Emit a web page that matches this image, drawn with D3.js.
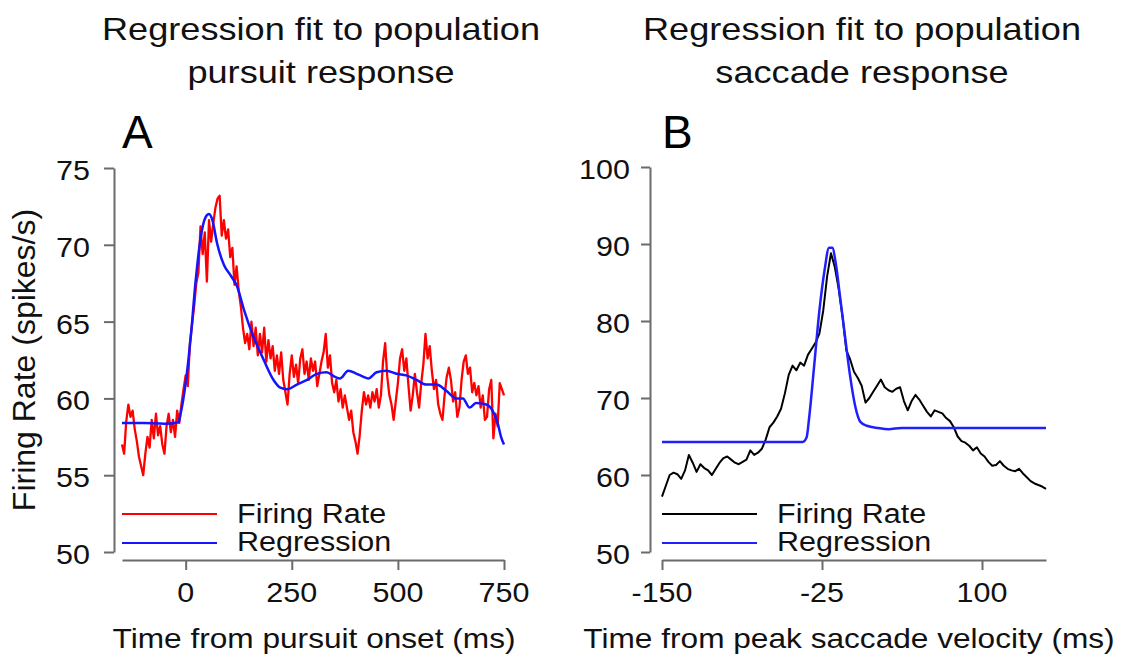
<!DOCTYPE html>
<html>
<head>
<meta charset="utf-8">
<script src="https://cdn.jsdelivr.net/npm/d3@7"></script>
<style>
  body { margin: 0; background: #fff; }
  svg { display: block; font-family: "Liberation Sans", Arial, sans-serif; }
</style>
</head>
<body>
<div id="chart"></div>
<script>
// ---- panel A: pursuit response (5 ms bins, -150..750 ms)
var pursuitStart = -150, pursuitStep = 5;
var pursuitRate = [
  57.0, 56.4, 58.5, 59.6, 58.8, 59.2, 58.0, 57.2, 56.2, 55.6,
  55.0, 56.4, 57.5, 56.8, 58.6, 57.4, 59.0, 57.6, 58.2, 57.0,
  56.4, 58.2, 59.0, 57.8, 58.6, 57.5, 59.2, 58.4, 59.6, 60.6,
  61.5, 60.8, 63.6, 64.8, 66.0, 67.5, 68.2, 71.2, 69.4, 70.8,
  67.6, 71.6, 70.2, 71.4, 72.4, 73.0, 73.2, 70.6, 71.6, 70.4,
  71.0, 69.2, 69.8, 67.4, 68.6, 67.0, 66.0, 64.6, 63.6, 64.2,
  63.2, 65.0, 63.4, 64.6, 62.8, 64.2, 63.0, 64.6, 62.4, 63.8,
  62.6, 63.4, 61.8, 62.8, 61.6, 63.0, 61.2, 60.4, 59.6, 61.6,
  62.8, 61.4, 62.2, 61.0, 62.6, 63.2, 61.6, 62.4, 61.2, 62.6,
  61.8, 62.4, 60.8, 61.6, 62.4, 63.0, 64.2, 62.0, 62.8, 61.0,
  60.4, 61.2, 59.8, 60.6, 59.4, 60.2, 59.4, 58.6, 59.2, 57.8,
  57.2, 56.4, 57.6, 59.2, 60.4, 59.6, 60.2, 59.4, 60.4, 59.8,
  60.6, 59.4, 60.2, 62.4, 63.6, 61.4, 60.2, 59.6, 58.6, 59.8,
  61.0, 62.6, 63.2, 61.8, 62.6, 60.8, 59.2, 60.2, 61.6, 60.4,
  59.4, 61.0, 62.2, 64.2, 62.6, 63.4, 61.8, 60.6, 61.2, 59.6,
  59.0, 58.6, 60.2, 61.4, 62.0, 61.2, 59.8, 60.4, 58.8, 59.4,
  61.2, 62.4, 62.8, 61.6, 62.0, 60.4, 61.0, 60.2, 60.8, 59.4,
  60.2, 58.6, 58.8, 60.6, 61.2, 57.4, 59.0, 58.2, 61.0, 60.6,
  60.2
];
var pursuitFitT = [-150, -100, -50, -17, -12, 0, 12, 23, 35, 47, 55, 63, 74, 90, 106, 121, 137, 160, 184, 207, 223, 239, 262, 286, 309, 332, 352, 364, 383, 403, 419, 430, 450, 473, 497, 520, 544, 567, 591, 614, 638, 653, 669, 684, 708, 723, 735, 743, 750];
var pursuitFit = [58.4, 58.4, 58.35, 58.45, 59.0, 61.0, 64.0, 67.5, 70.4, 71.8, 72.0, 71.6, 70.1, 68.7, 68.0, 67.3, 65.8, 64.0, 62.5, 61.2, 60.7, 60.6, 60.9, 61.2, 61.6, 61.7, 61.4, 61.3, 61.8, 61.6, 61.4, 61.3, 61.7, 61.8, 61.6, 61.5, 61.2, 60.9, 60.9, 60.5, 60.0, 60.0, 59.4, 59.7, 59.6, 59.2, 58.4, 57.5, 57.0];

// ---- panel B: saccade response (3 ms bins, -150..150 ms)
var saccadeStart = -150, saccadeStep = 3;
var saccadeRate = [
  57.2, 58.6, 60.0, 60.3, 60.1, 59.5, 60.6, 62.6, 61.6, 60.4,
  61.4, 60.9, 60.6, 60.0, 60.8, 61.6, 62.2, 62.4, 62.0, 61.6,
  61.4, 61.7, 62.0, 63.2, 62.6, 62.9, 63.4, 64.6, 66.2, 66.8,
  67.6, 68.6, 70.6, 73.0, 74.2, 73.6, 74.6, 74.2, 75.6, 76.4,
  77.2, 78.4, 81.4, 85.8, 88.8, 87.0, 84.2, 80.6, 76.2, 75.0,
  73.4, 72.6, 71.6, 69.4, 70.0, 70.8, 71.6, 72.4, 71.4, 71.0,
  70.8, 71.2, 71.4, 69.6, 68.4, 69.6, 70.4, 69.8, 69.0, 68.2,
  67.6, 68.4, 68.2, 68.0, 67.4, 67.0, 66.2, 65.0, 64.4, 64.2,
  63.8, 63.2, 63.6, 62.8, 62.4, 61.7, 61.2, 61.3, 61.8, 61.2,
  60.8, 60.6, 60.5, 60.8, 60.2, 59.7, 59.2, 58.9, 58.7, 58.5,
  58.2
];
var saccadeFitT = [-150, -100, -60, -40, -37, -35, -31, -27, -23, -19.5, -17, -14, -11, -7, -3, 1, 5, 10, 19, 27, 37, 150];
var saccadeFit = [64.3, 64.3, 64.3, 64.3, 64.9, 67.5, 74.4, 81.4, 86.6, 89.5, 89.5, 87.2, 83.3, 78.0, 72.8, 68.9, 66.9, 66.4, 66.1, 65.95, 66.1, 66.1];

var pursuitTicksX = [0, 250, 500, 750], pursuitTicksY = [50, 55, 60, 65, 70, 75];
var saccadeTicksX = [-150, -25, 100], saccadeTicksY = [50, 60, 70, 80, 90, 100];
var legendNames = ["Firing Rate", "Regression"];

var W = 1129, H = 657, sx = 1.13;
var axisColor = "#6b6b6b", textColor = "#111";

var svg = d3.select("#chart").append("svg").attr("width", W).attr("height", H);
svg.append("rect").attr("width", W).attr("height", H).attr("fill", "#fff");

// horizontally stretched text, like the reference
function label(g, x, y, txt, size, anchor) {
  return g.append("text")
    .attr("transform", "translate(" + x + "," + y + ") scale(" + sx + ",1)")
    .attr("text-anchor", anchor || "start")
    .attr("font-size", size)
    .attr("fill", textColor)
    .text(txt);
}

function panel(opt) {
  var g = svg.append("g");
  var x = d3.scaleLinear().domain(opt.xDomain).range(opt.xRange);
  var y = d3.scaleLinear().domain(opt.yDomain).range([552, opt.yTop]);

  // axes
  var xa = g.append("g").attr("transform", "translate(0,560)")
    .call(d3.axisBottom(x).tickValues(opt.xTicks).tickSize(10).tickSizeOuter(0).tickFormat(""));
  var ya = g.append("g").attr("transform", "translate(" + opt.yAxisX + ",0)")
    .call(d3.axisLeft(y).tickValues(opt.yTicks).tickSize(opt.tickLen).tickSizeOuter(0).tickFormat(""));
  [xa, ya].forEach(function (a) {
    a.selectAll("path, line").attr("stroke", axisColor).attr("stroke-width", 2);
    a.selectAll("text").remove();
  });

  opt.xTicks.forEach(function (v) { label(g, x(v), 602, v, 27, "middle"); });
  opt.yTicks.forEach(function (v) { label(g, opt.yLabelX, y(v) + 12, v, 27, "end"); });

  // lines
  var rateLine = d3.line()
    .x(function (d, i) { return x(opt.rateStart + i * opt.rateStep); })
    .y(function (d) { return y(d); });
  g.append("path").datum(opt.rate)
    .attr("d", rateLine).attr("fill", "none")
    .attr("stroke", opt.rateColor).attr("stroke-width", opt.rateWidth).attr("stroke-linejoin", "round");

  var fitLine = d3.line()
    .x(function (d) { return x(d[0]); })
    .y(function (d) { return y(d[1]); })
    .curve(d3.curveMonotoneX);
  g.append("path").datum(d3.zip(opt.fitT, opt.fit))
    .attr("d", fitLine).attr("fill", "none")
    .attr("stroke", opt.fitColor).attr("stroke-width", 2.5);

  // legend
  var lx = opt.xRange[0];
  [opt.rateColor, opt.fitColor].forEach(function (c, i) {
    g.append("line").attr("x1", lx).attr("x2", lx + 95)
      .attr("y1", 514 + i * 29).attr("y2", 514 + i * 29)
      .attr("stroke", c).attr("stroke-width", 2);
    label(g, lx + 115, 523 + i * 28, legendNames[i], 27);
  });

  // titles
  label(g, opt.titleX, 40, "Regression fit to population", 32, "middle");
  label(g, opt.titleX, 83, opt.title2, 32, "middle");
  g.append("text").attr("x", lx).attr("y", 148).attr("font-size", 46)
    .attr("fill", "#000").text(opt.letter);
  label(g, opt.xLabelX, 648, opt.xLabel, 28, "middle");
}

panel({
  xDomain: [-150, 750], xRange: [122, 504], yDomain: [50, 75], yTop: 168,
  xTicks: pursuitTicksX, yTicks: pursuitTicksY, yAxisX: 114, tickLen: 10, yLabelX: 90,
  rate: pursuitRate, rateStart: pursuitStart, rateStep: pursuitStep, rateColor: "#ff0000", rateWidth: 2.3,
  fitT: pursuitFitT, fit: pursuitFit, fitColor: "#1414ff",
  titleX: 321, title2: "pursuit response", letter: "A",
  xLabelX: 314, xLabel: "Time from pursuit onset (ms)"
});

panel({
  xDomain: [-150, 150], xRange: [662, 1046], yDomain: [50, 100], yTop: 167,
  xTicks: saccadeTicksX, yTicks: saccadeTicksY, yAxisX: 650, tickLen: 9, yLabelX: 630,
  rate: saccadeRate, rateStart: saccadeStart, rateStep: saccadeStep, rateColor: "#000000", rateWidth: 2,
  fitT: saccadeFitT, fit: saccadeFit, fitColor: "#2020ff",
  titleX: 862, title2: "saccade response", letter: "B",
  xLabelX: 849, xLabel: "Time from peak saccade velocity (ms)"
});

// shared y label
svg.append("text")
  .attr("transform", "translate(35,360) rotate(-90)")
  .attr("text-anchor", "middle").attr("font-size", 32).attr("fill", textColor)
  .text("Firing Rate (spikes/s)");
</script>
</body>
</html>
